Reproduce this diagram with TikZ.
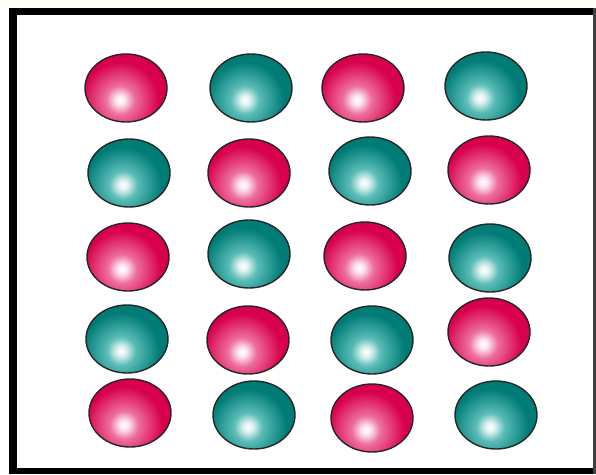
\documentclass[tikz,border=0pt]{standalone}
\usetikzlibrary{shapes.geometric}
\definecolor{redA}{RGB}{216,0,76}
\definecolor{redB}{RGB}{238,110,158}
\definecolor{redC}{RGB}{185,0,58}
\definecolor{tealA}{RGB}{0,124,118}
\definecolor{tealB}{RGB}{90,188,183}
\definecolor{tealC}{RGB}{0,100,95}
\pgfdeclareradialshading{redconc}{\pgfpointorigin}{%
  color(0bp)=(white); color(2bp)=(white!80!redB); color(6bp)=(redB);
  color(16bp)=(redA); color(38bp)=(redA); color(50bp)=(redC)}
\pgfdeclareradialshading{tealconc}{\pgfpointorigin}{%
  color(0bp)=(white); color(2bp)=(white!80!tealB); color(6bp)=(tealB);
  color(16bp)=(tealA); color(38bp)=(tealA); color(50bp)=(tealC)}
\tikzset{
  ballbase/.style={ellipse, minimum width=82pt, minimum height=68pt, inner sep=0pt,
    draw=black!85, line width=1.4pt},
  rball/.style={ballbase, path picture={\shade[shading=redconc]
    ([xshift=-6pt,yshift=-12pt]path picture bounding box.center) circle (60pt);}},
  tball/.style={ballbase, path picture={\shade[shading=tealconc]
    ([xshift=-6pt,yshift=-12pt]path picture bounding box.center) circle (60pt);}}
}
\begin{document}
\begin{tikzpicture}[x=1pt,y=-1pt]
\useasboundingbox (0,0) rectangle (596,474);
\fill[white!96!yellow] (0,0) rectangle (596,8);
% frame
\fill[black] (9,8) rectangle (596,15);
\fill[black] (9,8) rectangle (17,474);
\fill[black] (9,468) rectangle (596,474);
\fill[black!75] (593,8) rectangle (596,474);
% row 1
\node[rball] (r1c1) at (126,88) {};
\node[tball] (r1c2) at (251,88) {};
\node[rball] (r1c3) at (363,88) {};
\node[tball] (r1c4) at (486,86) {};
% row 2
\node[tball] (r2c1) at (129,173) {};
\node[rball] (r2c2) at (249,173) {};
\node[tball] (r2c3) at (370,171) {};
\node[rball] (r2c4) at (489,170) {};
% row 3
\node[rball] (r3c1) at (128,257) {};
\node[tball] (r3c2) at (249,254) {};
\node[rball] (r3c3) at (365,256) {};
\node[tball] (r3c4) at (490,258) {};
% row 4
\node[tball] (r4c1) at (127,339) {};
\node[rball] (r4c2) at (248,340) {};
\node[tball] (r4c3) at (372,340) {};
\node[rball] (r4c4) at (489,332) {};
% row 5
\node[rball] (r5c1) at (130,413) {};
\node[tball] (r5c2) at (254,415) {};
\node[rball] (r5c3) at (372,418) {};
\node[tball] (r5c4) at (496,415) {};
\end{tikzpicture}
\end{document}
